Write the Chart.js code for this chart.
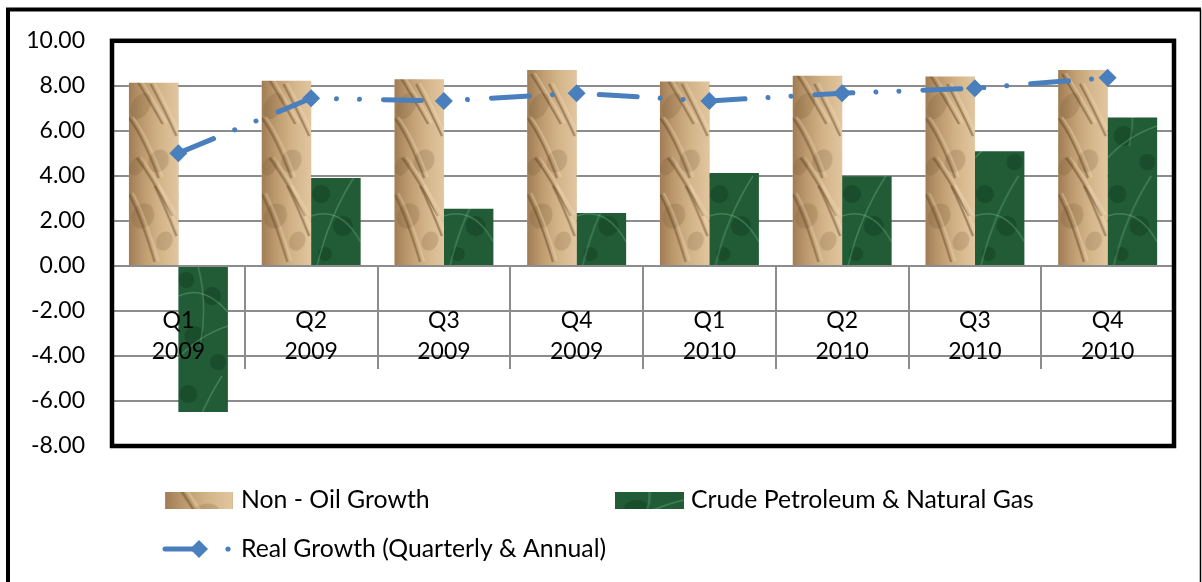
<!DOCTYPE html>
<html>
<head>
<meta charset="utf-8">
<script src="https://cdn.jsdelivr.net/npm/chart.js@4/dist/chart.umd.min.js"></script>
<style>
html,body{margin:0;padding:0;background:#fff;}
#wrap{width:1202px;height:582px;position:relative;overflow:hidden;}
canvas{display:block;}
</style>
</head>
<body>
<div id="wrap"><canvas id="c" width="1202" height="582"></canvas></div>
<script>
// ---- data ----
const quarters = ['Q1', 'Q2', 'Q3', 'Q4', 'Q1', 'Q2', 'Q3', 'Q4'];
const years = ['2009', '2009', '2009', '2009', '2010', '2010', '2010', '2010'];
const nonOilGrowth = [8.14, 8.23, 8.29, 8.70, 8.19, 8.45, 8.41, 8.70];
const crudePetroleumGas = [-6.49, 3.91, 2.54, 2.35, 4.13, 3.98, 5.09, 6.59];
const realGrowth = [5.01, 7.45, 7.33, 7.67, 7.33, 7.67, 7.89, 8.36];
const yMin = -8, yMax = 10, yStep = 2;
const seriesNames = ['Non - Oil Growth', 'Crude Petroleum & Natural Gas', 'Real Growth (Quarterly & Annual)'];

const categories = quarters.map((q, i) => [q, years[i]]);

// ---- styles ----
const FONT = 'Lato, "Open Sans", sans-serif';
const FSIZE = 23;
const LEGEND_FSIZE = 24.8;
const GRID = '#8c8c8c';
const LINE_BLUE = '#4a7fbd';
const CAT_PCT = 0.746;

function makeSandTile() {
  const W = 50, H = 200;
  const c = document.createElement('canvas');
  c.width = W; c.height = H;
  const g = c.getContext('2d');
  const grd = g.createLinearGradient(0, 0, W, 0);
  grd.addColorStop(0, '#a07d55');
  grd.addColorStop(0.3, '#bf9c70');
  grd.addColorStop(0.65, '#d5b68b');
  grd.addColorStop(1, '#e2c69f');
  g.fillStyle = grd;
  g.fillRect(0, 0, W, H);
  const blots = [[12, 40, 9, 14], [30, 95, 10, 12], [14, 150, 11, 13], [36, 175, 8, 10], [8, 100, 7, 10]];
  g.fillStyle = 'rgba(120,88,52,0.22)';
  for (const [x, y, rx, ry] of blots) {
    g.beginPath(); g.ellipse(x, y, rx, ry, 0.5, 0, Math.PI * 2); g.fill();
  }
  const cracks = [
    [4, 8, 18, 30, 34, 58], [0, 52, 14, 70, 30, 112], [8, 92, 22, 110, 44, 150],
    [0, 128, 12, 150, 26, 196], [22, 18, 34, 40, 48, 70], [26, 120, 36, 140, 48, 170]
  ];
  for (const [x1, y1, cx, cy, x2, y2] of cracks) {
    g.strokeStyle = 'rgba(92,62,32,0.45)';
    g.lineWidth = 2.2;
    g.beginPath(); g.moveTo(x1, y1); g.quadraticCurveTo(cx, cy, x2, y2); g.stroke();
    g.strokeStyle = 'rgba(245,228,196,0.35)';
    g.lineWidth = 2;
    g.beginPath(); g.moveTo(x1 + 4, y1 - 1); g.quadraticCurveTo(cx + 4, cy - 1, x2 + 4, y2 - 1); g.stroke();
  }
  return c;
}

function makeGreenTile() {
  const W = 50, H = 200;
  const c = document.createElement('canvas');
  c.width = W; c.height = H;
  const g = c.getContext('2d');
  g.fillStyle = '#215c37';
  g.fillRect(0, 0, W, H);
  const blots = [[8, 14, 8], [34, 30, 9], [16, 70, 10], [40, 96, 8], [10, 128, 9], [32, 160, 10], [14, 188, 7]];
  g.fillStyle = 'rgba(12,48,24,0.35)';
  for (const [x, y, r] of blots) {
    g.beginPath(); g.arc(x, y, r, 0, Math.PI * 2); g.fill();
  }
  const veins = [
    [0, 30, 25, 18, 50, 46], [0, 92, 20, 70, 50, 60], [6, 200, 18, 150, 44, 110],
    [0, 150, 30, 140, 50, 176], [20, 0, 30, 40, 22, 80]
  ];
  g.strokeStyle = 'rgba(118,182,138,0.4)';
  g.lineWidth = 1.5;
  for (const [x1, y1, cx, cy, x2, y2] of veins) {
    g.beginPath(); g.moveTo(x1, y1); g.quadraticCurveTo(cx, cy, x2, y2); g.stroke();
  }
  return c;
}

const sandTile = makeSandTile();
const greenTile = makeGreenTile();

function patternAt(ctx2d, tile, left, top, sx) {
  const p = ctx2d.createPattern(tile, 'repeat');
  p.setTransform(new DOMMatrix([sx, 0, 0, 1, left, top]));
  return p;
}

function barFill(tile, dsIndex) {
  return (context) => {
    const chart = context.chart;
    const xs = chart.scales && chart.scales.x;
    if (!xs || context.dataIndex === undefined) {
      return patternAt(chart.ctx, tile, 0, 0, 1);
    }
    const cw = (xs.right - xs.left) / categories.length;
    const bw = cw * CAT_PCT / 2;
    const left = xs.getPixelForValue(context.dataIndex) - bw + dsIndex * bw;
    return patternAt(chart.ctx, tile, left, 66, bw / 50);
  };
}

// ---- plugins ----
const framePlugin = {
  id: 'frame',
  beforeDraw(chart) {
    const ctx = chart.ctx;
    ctx.save();
    ctx.fillStyle = '#fff';
    ctx.fillRect(0, 0, chart.width, chart.height);
    ctx.restore();
  },
  afterDraw(chart) {
    const ctx = chart.ctx;
    const a = chart.chartArea;
    ctx.save();
    // plot area border
    ctx.strokeStyle = '#000';
    ctx.lineWidth = 4.5;
    ctx.strokeRect(a.left, a.top, a.right - a.left, a.bottom - a.top);
    // outer frame
    ctx.lineWidth = 4;
    ctx.beginPath();
    ctx.moveTo(8, 582); ctx.lineTo(8, 9.5); ctx.lineTo(1201, 9.5);
    ctx.stroke();
    ctx.lineWidth = 1.5;
    ctx.beginPath();
    ctx.moveTo(1200.5, 9.5); ctx.lineTo(1200.5, 582);
    ctx.stroke();

    // legend
    const ds = chart.data.datasets;
    ctx.font = LEGEND_FSIZE + 'px ' + FONT;
    ctx.textBaseline = 'middle';
    ctx.textAlign = 'left';
    ctx.fillStyle = patternAt(ctx, sandTile, 165, 420, 1.36);
    ctx.fillRect(165, 492, 68, 17);
    ctx.fillStyle = '#000';
    ctx.fillText(ds[0].label, 241, 500);
    ctx.fillStyle = patternAt(ctx, greenTile, 615, 440, 1.38);
    ctx.fillRect(615, 492, 69, 17);
    ctx.fillStyle = '#000';
    ctx.fillText(ds[1].label, 691, 500);
    const ly = 549;
    ctx.strokeStyle = ds[2].borderColor;
    ctx.fillStyle = ds[2].borderColor;
    ctx.lineWidth = 5;
    ctx.lineCap = 'round';
    ctx.beginPath(); ctx.moveTo(165, ly); ctx.lineTo(198, ly); ctx.stroke();
    const r = 9;
    ctx.beginPath();
    ctx.moveTo(199, ly - r); ctx.lineTo(199 + r, ly); ctx.lineTo(199, ly + r); ctx.lineTo(199 - r, ly);
    ctx.closePath(); ctx.fill();
    ctx.beginPath(); ctx.arc(228, ly, 2.6, 0, Math.PI * 2); ctx.fill();
    ctx.fillStyle = '#000';
    ctx.fillText(ds[2].label, 241, ly);
    ctx.restore();
  }
};

new Chart(document.getElementById('c'), {
  type: 'bar',
  data: {
    labels: categories,
    datasets: [
      {
        label: seriesNames[0],
        data: nonOilGrowth,
        backgroundColor: barFill(sandTile, 0),
        borderWidth: 0,
        order: 2
      },
      {
        label: seriesNames[1],
        data: crudePetroleumGas,
        backgroundColor: barFill(greenTile, 1),
        borderWidth: 0,
        order: 2
      },
      {
        type: 'line',
        label: seriesNames[2],
        data: realGrowth,
        borderColor: LINE_BLUE,
        backgroundColor: LINE_BLUE,
        borderWidth: 5,
        borderCapStyle: 'round',
        borderDash: [38, 23, 0.01, 23, 0.01, 24],
        tension: 0,
        fill: false,
        pointStyle: 'rectRot',
        pointRadius: 9,
        pointBorderWidth: 0,
        pointBackgroundColor: LINE_BLUE,
        order: 0
      }
    ]
  },
  options: {
    responsive: false,
    devicePixelRatio: 1,
    animation: false,
    barPercentage: 1,
    categoryPercentage: CAT_PCT,
    layout: { padding: { left: 0, top: 39, right: 28, bottom: 136 } },
    plugins: {
      legend: { display: false },
      tooltip: { enabled: false },
      title: { display: false }
    },
    scales: {
      x: {
        type: 'category',
        position: { y: 0 },
        offset: true,
        grid: {
          display: true,
          offset: true,
          drawOnChartArea: false,
          drawTicks: true,
          tickLength: 102,
          color: GRID,
          lineWidth: 2
        },
        border: { display: true, color: GRID, width: 2 },
        ticks: {
          z: 1,
          color: '#000',
          font: { family: FONT, size: FSIZE, lineHeight: 1.35 },
          padding: -62.5,
          maxRotation: 0,
          minRotation: 0,
          autoSkip: false
        },
        afterFit: (s) => { s.paddingLeft = 0; s.paddingRight = 0; s.paddingTop = 0; s.paddingBottom = 0; }
      },
      y: {
        min: yMin,
        max: yMax,
        grid: { color: GRID, lineWidth: 2, drawTicks: false },
        border: { display: false },
        ticks: {
          stepSize: yStep,
          color: '#000',
          padding: 27,
          font: { family: FONT, size: FSIZE },
          callback: (v) => Number(v).toFixed(2)
        },
        afterFit: (s) => { s.width = 112; }
      }
    }
  },
  plugins: [framePlugin]
});
</script>
</body>
</html>
